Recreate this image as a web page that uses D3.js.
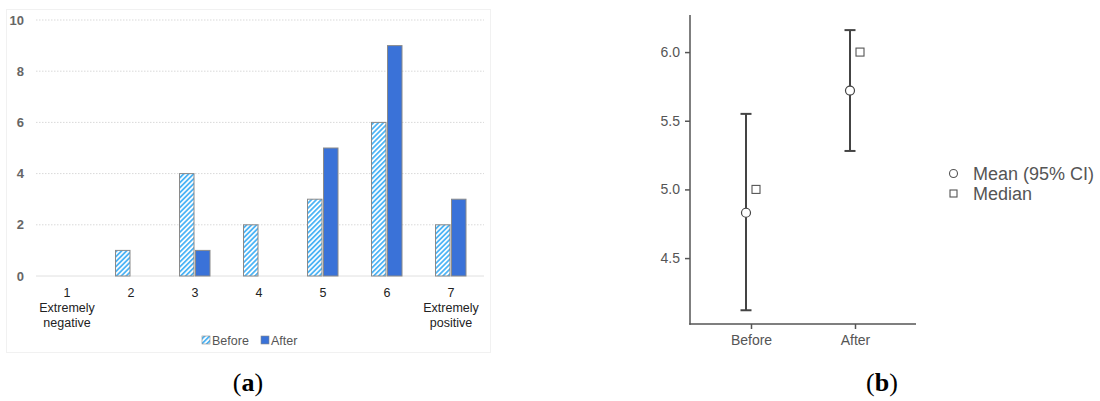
<!DOCTYPE html>
<html>
<head>
<meta charset="utf-8">
<script src="https://cdnjs.cloudflare.com/ajax/libs/d3/7.8.5/d3.min.js"></script>
<style>
  html, body { margin: 0; padding: 0; background: #fff; }
  svg { display: block; font-family: "Liberation Sans", Arial, sans-serif; }
</style>
</head>
<body>
<svg id="fig" width="1100" height="401"></svg>
<script>
// Panel (a): response distribution
const categories = ["1", "2", "3", "4", "5", "6", "7"];
const categoryNotes = [["Extremely", "negative"], [], [], [], [], [], ["Extremely", "positive"]];
const series = ["Before", "After"];
const beforeCounts = [0, 1, 4, 2, 3, 6, 2];
const afterCounts = [0, 0, 1, 0, 5, 9, 3];
const countTicks = [0, 2, 4, 6, 8, 10];

// Panel (b): mean with 95% CI and median
const groups = ["Before", "After"];
const means = [4.83, 5.72];
const ciLower = [4.12, 5.28];
const ciUpper = [5.55, 6.16];
const medians = [5.0, 6.0];
const scoreTicks = [4.5, 5.0, 5.5, 6.0];
const legendLabels = ["Mean (95% CI)", "Median"];

const svg = d3.select("#fig");

// ---------- Panel (a) ----------
const afterBlue = "#3a72d8";
const hatchBlue = "#4db4f5";

const defs = svg.append("defs");
const pat = defs.append("pattern")
  .attr("id", "hatch")
  .attr("patternUnits", "userSpaceOnUse")
  .attr("width", 3.5).attr("height", 3.5)
  .attr("patternTransform", "rotate(45)");
pat.append("rect").attr("width", 3.5).attr("height", 3.5).attr("fill", "#fff");
pat.append("rect").attr("width", 1.8).attr("height", 3.5).attr("fill", hatchBlue);

const a = svg.append("g");

a.append("rect")
  .attr("x", 6.5).attr("y", 9.5).attr("width", 484).attr("height", 343)
  .attr("fill", "none").attr("stroke", "#f1f1f1");

const x0 = d3.scaleBand().domain(categories).range([35, 483]);
const x1 = d3.scaleBand().domain(series).range([-16, 16]);
const yA = d3.scaleLinear().domain([0, 10]).range([276, 20]);

// gridlines
a.append("g").selectAll("line")
  .data(countTicks.filter(t => t > 0))
  .join("line")
  .attr("x1", 36).attr("x2", 484)
  .attr("y1", d => yA(d)).attr("y2", d => yA(d))
  .attr("stroke", "#d9d9d9").attr("stroke-width", 1)
  .attr("stroke-dasharray", "1.5,1.5");

a.append("line")
  .attr("x1", 36).attr("x2", 484)
  .attr("y1", yA(0)).attr("y2", yA(0))
  .attr("stroke", "#e0e0e0").attr("stroke-width", 1);

// y tick labels
a.append("g").selectAll("text")
  .data(countTicks)
  .join("text")
  .attr("x", 24).attr("y", d => yA(d) + 4.5)
  .attr("text-anchor", "end")
  .attr("font-size", 13).attr("font-weight", "bold")
  .attr("fill", "#666")
  .text(d => d);

// bars
const barData = [];
categories.forEach((c, i) => {
  barData.push({ cat: c, s: "Before", v: beforeCounts[i] });
  barData.push({ cat: c, s: "After", v: afterCounts[i] });
});

a.append("g").selectAll("rect")
  .data(barData.filter(d => d.v > 0))
  .join("rect")
  .attr("x", d => x0(d.cat) + x0.bandwidth() / 2 + x1(d.s) + 0.5)
  .attr("y", d => yA(d.v))
  .attr("width", x1.bandwidth() - 1.5)
  .attr("height", d => yA(0) - yA(d.v))
  .attr("fill", d => d.s === "Before" ? "url(#hatch)" : afterBlue)
  .attr("stroke", "#8a8a8a").attr("stroke-width", 1);

// category labels
const catG = a.append("g");
categories.forEach((c, i) => {
  const cx = x0(c) + x0.bandwidth() / 2;
  catG.append("text")
    .attr("x", cx).attr("y", 296.5)
    .attr("text-anchor", "middle").attr("font-size", 12.5).attr("fill", "#222")
    .text(c);
  categoryNotes[i].forEach((line, k) => {
    catG.append("text")
      .attr("x", cx).attr("y", 311.5 + k * 15)
      .attr("text-anchor", "middle").attr("font-size", 12.5).attr("fill", "#222")
      .text(line);
  });
});

// legend (a)
const legA = a.append("g");
const legItems = [
  { label: "Before", fill: "url(#hatch)", x: 202 },
  { label: "After", fill: afterBlue, x: 261 }
];
legItems.forEach(it => {
  legA.append("rect")
    .attr("x", it.x).attr("y", 336).attr("width", 8).attr("height", 8)
    .attr("fill", it.fill).attr("stroke", "#8a8a8a").attr("stroke-width", 0.6);
  legA.append("text")
    .attr("x", it.x + 10).attr("y", 344.5)
    .attr("font-size", 12.5).attr("fill", "#555")
    .text(it.label);
});

// ---------- Panel (b) ----------
const b = svg.append("g");
const xB = d3.scalePoint().domain(groups).range([751, 855]);
const yB = d3.scaleLinear().domain([4.02, 6.27]).range([324, 15]);
const axisCol = "#555";

// axes
const yAxis = d3.axisLeft(yB).tickValues(scoreTicks).tickFormat(d3.format(".1f")).tickSize(5).tickPadding(5);
const gy = b.append("g").attr("transform", "translate(690,0)").call(yAxis);
gy.select(".domain").remove();
gy.selectAll(".tick line").attr("stroke", axisCol).attr("stroke-width", 1.5);
gy.selectAll(".tick text").attr("fill", axisCol).attr("font-size", 14).attr("font-family", "Liberation Sans, Arial, sans-serif");
b.append("line").attr("x1", 690).attr("x2", 690).attr("y1", 15).attr("y2", 324.75)
  .attr("stroke", axisCol).attr("stroke-width", 1.5);

const xAxis = d3.axisBottom(xB).tickSize(5).tickPadding(6);
const gx = b.append("g").attr("transform", "translate(0,324)").call(xAxis);
gx.select(".domain").remove();
gx.selectAll(".tick line").attr("stroke", axisCol).attr("stroke-width", 1.5);
gx.selectAll(".tick text").attr("fill", axisCol).attr("font-size", 14).attr("font-family", "Liberation Sans, Arial, sans-serif");
b.append("line").attr("x1", 689.25).attr("x2", 916).attr("y1", 324).attr("y2", 324)
  .attr("stroke", axisCol).attr("stroke-width", 1.5);

// error bars and means (dodged left), medians (dodged right)
const dodge = 5;
const ebCol = "#444";
groups.forEach((g, i) => {
  const cx = xB(g) - dodge;
  b.append("line")
    .attr("x1", cx).attr("x2", cx)
    .attr("y1", yB(ciLower[i])).attr("y2", yB(ciUpper[i]))
    .attr("stroke", ebCol).attr("stroke-width", 2);
  [ciLower[i], ciUpper[i]].forEach(v => {
    b.append("line")
      .attr("x1", cx - 5.5).attr("x2", cx + 5.5)
      .attr("y1", yB(v)).attr("y2", yB(v))
      .attr("stroke", ebCol).attr("stroke-width", 2);
  });
  b.append("circle")
    .attr("cx", cx).attr("cy", yB(means[i])).attr("r", 4.5)
    .attr("fill", "#fff").attr("stroke", ebCol).attr("stroke-width", 1.2);
  const mx = xB(g) + dodge;
  b.append("rect")
    .attr("x", mx - 4).attr("y", yB(medians[i]) - 4)
    .attr("width", 8).attr("height", 8)
    .attr("fill", "#fff").attr("stroke", "#555").attr("stroke-width", 1.1);
});

// legend (b)
const legB = b.append("g");
legB.append("circle").attr("cx", 953.5).attr("cy", 173.5).attr("r", 4)
  .attr("fill", "#fff").attr("stroke", "#555").attr("stroke-width", 1.1);
legB.append("rect").attr("x", 950).attr("y", 190).attr("width", 7).attr("height", 7)
  .attr("fill", "#fff").attr("stroke", "#555").attr("stroke-width", 1.1);
legendLabels.forEach((t, k) => {
  legB.append("text")
    .attr("x", 973).attr("y", 180 + k * 20)
    .attr("font-size", 18).attr("fill", "#555")
    .text(t);
});

// panel captions
const captions = [{ t: "a", x: 248 }, { t: "b", x: 882 }];
captions.forEach(c => {
  const txt = svg.append("text")
    .attr("x", c.x).attr("y", 391)
    .attr("text-anchor", "middle")
    .attr("font-family", "Liberation Serif, 'DejaVu Serif', serif")
    .attr("font-size", 26).attr("fill", "#000");
  txt.append("tspan").text("(");
  txt.append("tspan").attr("font-weight", "bold").text(c.t);
  txt.append("tspan").text(")");
});
</script>
</body>
</html>
